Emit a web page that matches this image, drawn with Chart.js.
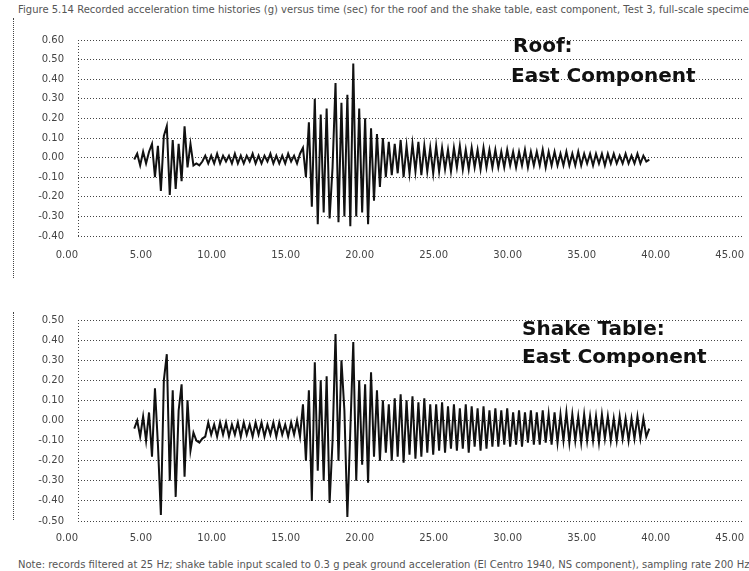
<!DOCTYPE html>
<html>
<head>
<meta charset="utf-8">
<script src="https://cdn.jsdelivr.net/npm/chart.js@4.4.1/dist/chart.umd.min.js"></script>
<style>
  body { margin: 0; width: 749px; height: 571px; background: #fff; position: relative; overflow: hidden; }
  .box { position: absolute; left: 0; width: 749px; height: 250px; }
  #roofBox { top: 20px; }
  #tableBox { top: 300px; }
  .note { position: absolute; font: bold 20px/20px "DejaVu Sans", sans-serif; color: #111; white-space: nowrap; }
  .caption { position: absolute; left: 18px; font: 10px/12px "DejaVu Sans", sans-serif; color: #555; white-space: nowrap; }
  .edge { position: absolute; left: 13px; width: 0; border-left: 1px dotted #444; }
</style>
</head>
<body>
<div class="caption" style="top:4px">Figure 5.14  Recorded acceleration time histories (g) versus time (sec) for the roof and the shake table, east component, Test 3, full-scale specimen</div>
<div class="edge" style="top:18px;height:260px"></div>
<div class="edge" style="top:312px;height:208px"></div>
<div class="box" id="roofBox"><canvas id="roof_chart"></canvas></div>
<div class="box" id="tableBox"><canvas id="table_chart"></canvas></div>
<div class="note" style="left:513px;top:35px">Roof:</div>
<div class="note" style="left:511px;top:65px">East Component</div>
<div class="note" style="left:522px;top:318px">Shake Table:</div>
<div class="note" style="left:522px;top:346px">East Component</div>
<div class="caption" style="top:559px">Note: records filtered at 25 Hz; shake table input scaled to 0.3 g peak ground acceleration (El Centro 1940, NS component), sampling rate 200 Hz</div>
<script>
// samples every 0.2 s starting at 3.8 s
var sampleStart = 3.8;
var sampleStep = 0.2;

// roof, east component (g)
var roofEast = [
    -0.01, 0.02, -0.04, 0.03, -0.03, 0.03,
    0.07, -0.10, 0.06, -0.17, 0.11, 0.16, -0.19, 0.09, -0.16, 0.07, -0.12, 0.16, -0.05, 0.07, -0.04, -0.03, -0.04, -0.02,
    0.01, -0.03, 0.01, -0.03, 0.02, -0.03, 0.01, -0.02, 0.01, -0.03, 0.02, -0.03, 0.01, -0.03, 0.01, -0.02, 0.02,
    -0.03, 0.01, -0.03, 0.01, -0.02, 0.02, -0.03, 0.01, -0.03, 0.01, -0.03, 0.02, -0.02, 0.01, -0.03, 0.02,
    0.05, -0.10, 0.18, -0.25, 0.30, -0.34, 0.22, -0.28, 0.25, -0.31, -0.05, 0.38, -0.33, 0.28, -0.30,
    0.32, -0.35, 0.48, -0.30, 0.25, -0.28, 0.20, -0.34, 0.15, -0.22, 0.12, -0.15, 0.10, -0.10, 0.08,
    -0.09, 0.07, -0.08, 0.09, -0.10, 0.06, -0.08, 0.07, -0.07, 0.08, -0.09, 0.06, -0.07, 0.05, -0.08,
    0.06, -0.07, 0.05, -0.06, 0.04, -0.07, 0.05, -0.05, 0.06, -0.06, 0.04, -0.06, 0.05, -0.05, 0.04, -0.06, 0.05, -0.05, 0.04, -0.05,
    0.04, -0.05, 0.03, -0.05, 0.04, -0.04, 0.03, -0.05, 0.03, -0.04, 0.04, -0.05, 0.03, -0.04, 0.03, -0.04, 0.04, -0.05, 0.03, -0.04, 0.03, -0.04, 0.02, -0.04, 0.03,
    -0.04, 0.02, -0.04, 0.03, -0.04, 0.02, -0.03, 0.02, -0.04, 0.02, -0.03, 0.02, -0.04, 0.02, -0.03, 0.02, -0.03, 0.01, -0.03, 0.02, -0.03, 0.01, -0.03, 0.02, -0.03, 0.01, -0.02, -0.01
];

// shake table, east component (g)
var tableEast = [
    -0.04, 0.00, -0.08, 0.02, -0.10, 0.04,
    -0.18, 0.16, -0.12, -0.47, 0.20, 0.33, -0.30, 0.15, -0.38, 0.05, 0.18, -0.28, 0.10, -0.15, -0.06, -0.10, -0.11, -0.09,
    -0.08, -0.01, -0.07, -0.02, -0.08, -0.01, -0.07, -0.01, -0.08, -0.02, -0.07, -0.01, -0.08, -0.01, -0.07, -0.02, -0.08,
    -0.01, -0.07, -0.01, -0.08, -0.02, -0.07, -0.01, -0.08, -0.01, -0.07, -0.02, -0.08, -0.01, -0.07, 0.00, -0.08,
    0.08, -0.20, 0.15, -0.40, 0.29, -0.25, 0.20, -0.30, 0.22, -0.41, -0.10, 0.43, -0.20, 0.30, 0.05,
    -0.48, -0.05, 0.39, -0.30, 0.20, -0.22, 0.18, -0.31, 0.24, -0.18, 0.15, -0.20, 0.10, -0.16, 0.08,
    -0.20, 0.11, -0.18, 0.13, -0.21, 0.10, -0.17, 0.12, -0.19, 0.09, -0.18, 0.11, -0.16, 0.08, -0.17,
    0.08, -0.15, 0.09, -0.16, 0.07, -0.14, 0.08, -0.15, 0.06, -0.14, 0.08, -0.16, 0.07, -0.13, 0.06, -0.15, 0.07, -0.14, 0.05, -0.13,
    0.06, -0.13, 0.05, -0.12, 0.06, -0.13, 0.04, -0.12, 0.05, -0.13, 0.04, -0.11, 0.05, -0.12, 0.04, -0.12, 0.05, -0.11, 0.03, -0.12, 0.04, -0.11, 0.03, -0.10, 0.04,
    -0.11, 0.03, -0.10, 0.02, -0.11, 0.03, -0.10, 0.02, -0.10, 0.02, -0.11, 0.03, -0.09, 0.02, -0.10, 0.01, -0.10, 0.02, -0.09, 0.01, -0.10, 0.01, -0.09, 0.02, -0.09, 0.01, -0.08, -0.04
];

// axis ranges
var timeMin = 0, timeMax = 45, timeStep = 5;
var roofRange = [-0.4, 0.6];
var tableRange = [-0.5, 0.5];

function fmt(v) {
    if (Math.abs(v) < 1e-9) return '0.00';
    return v.toFixed(2);
}

function buildChart(id, values, range, padTop, tickPad, xHeight) {
    var points = values.map(function (v, i) {
        return { x: +(sampleStart + i * sampleStep).toFixed(1), y: v };
    });
    var tickFont = { size: 10, family: 'DejaVu Sans' };
    return new Chart(document.getElementById(id), {
        type: 'line',
        data: {
            datasets: [{
                data: points,
                borderColor: '#111',
                borderWidth: 2,
                pointRadius: 0,
                tension: 0,
                fill: false
            }]
        },
        options: {
            animation: false,
            responsive: true,
            maintainAspectRatio: false,
            layout: { padding: { top: padTop, right: 5, left: 0, bottom: 0 } },
            plugins: { legend: { display: false }, tooltip: { enabled: false } },
            scales: {
                x: {
                    type: 'linear',
                    min: timeMin,
                    max: timeMax,
                    ticks: { stepSize: timeStep, align: 'end', padding: tickPad, maxRotation: 0, color: '#444', font: tickFont, callback: fmt },
                    grid: { drawTicks: false, color: function (c) { return c.index === 0 ? '#444' : 'rgba(0,0,0,0)'; } },
                    border: { display: false, dash: [1, 2] },
                    afterFit: function (s) { s.height = xHeight; s.paddingLeft = 0; s.paddingRight = 0; }
                },
                y: {
                    min: range[0],
                    max: range[1],
                    ticks: { stepSize: 0.1, padding: 14, color: '#444', font: tickFont, callback: fmt },
                    grid: { drawTicks: false, color: '#444' },
                    border: { display: false, dash: [1, 2] },
                    afterFit: function (s) { s.width = 78; }
                }
            }
        }
    });
}

buildChart('roof_chart', roofEast, roofRange, 13, 13, 34);
buildChart('table_chart', tableEast, tableRange, 18, 11, 29);
</script>
</body>
</html>
